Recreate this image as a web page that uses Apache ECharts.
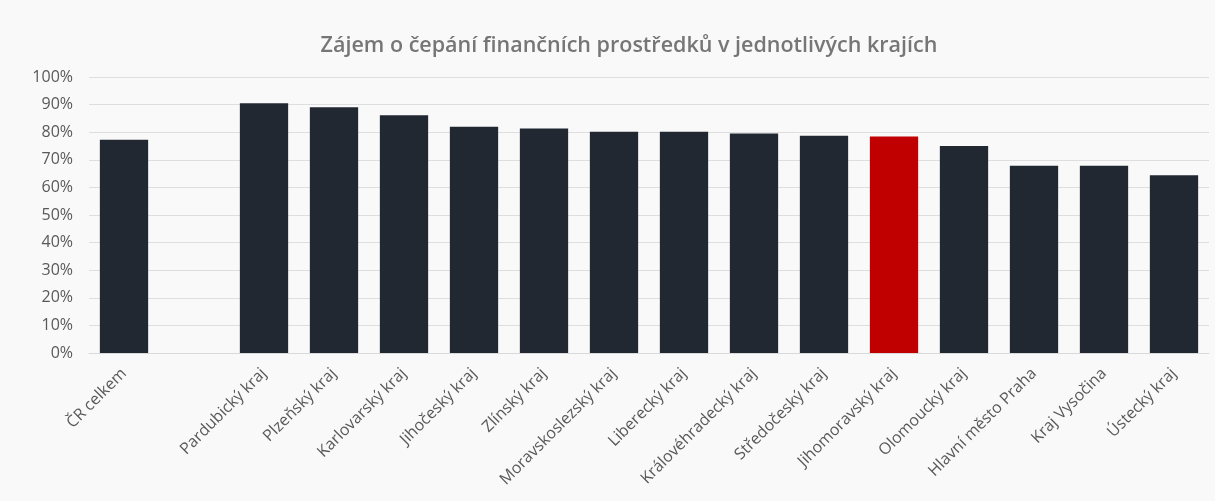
<!DOCTYPE html>
<html lang="cs">
<head>
  <meta charset="UTF-8">
  <title>Zájem o čepání finančních prostředků</title>
  <style>
    html, body { margin: 0; padding: 0; background: #f9f9f9; }
    #chart { width: 1215px; height: 501px; }
  </style>
  <script src="https://cdn.jsdelivr.net/npm/echarts@6/dist/echarts.min.js"></script>
</head>
<body>
  <div id="chart"></div>
  <script>
    // kategorie (druhá je prázdná mezera za ČR celkem)
    var kraje = ['ČR celkem', '', 'Pardubický kraj', 'Plzeňský kraj', 'Karlovarský kraj',
      'Jihočeský kraj', 'Zlínský kraj', 'Moravskoslezský kraj', 'Liberecký kraj',
      'Královéhradecký kraj', 'Středočeský kraj', 'Jihomoravský kraj', 'Olomoucký kraj',
      'Hlavní město Praha', 'Kraj Vysočina', 'Ústecký kraj'];
    var hodnoty = [77.3, null, 90.5, 89.0, 86.1, 82.0, 81.3, 80.2, 80.2, 79.5, 78.7, 78.4, 75.0, 67.8, 67.8, 64.4];
    var zvyrazneny = 'Jihomoravský kraj';

    var chart = echarts.init(document.getElementById('chart'));

    var data = hodnoty.map(function (v, i) {
      return {
        value: v,
        itemStyle: { color: kraje[i] === zvyrazneny ? '#c00000' : '#222831' }
      };
    });

    chart.setOption({
      backgroundColor: '#f9f9f9',
      title: {
        text: 'Zájem o čepání finančních prostředků v jednotlivých krajích',
        left: 624,
        textAlign: 'center',
        top: 30,
        textStyle: {
          fontFamily: 'Open Sans',
          fontSize: 21.5,
          fontWeight: 600,
          color: '#767676'
        }
      },
      grid: { left: 89, right: 6, top: 77, bottom: 148 },
      xAxis: {
        type: 'category',
        data: kraje,
        axisTick: { show: false },
        axisLine: { lineStyle: { color: '#d9d9d9' } },
        axisLabel: {
          rotate: 45,
          interval: 0,
          margin: 18,
          fontFamily: 'Open Sans',
          fontSize: 16,
          color: '#595959'
        }
      },
      yAxis: {
        type: 'value',
        min: 0,
        max: 100,
        interval: 10,
        axisLabel: {
          formatter: '{value}%',
          fontFamily: 'Open Sans',
          fontSize: 16,
          color: '#595959',
          margin: 16
        },
        splitLine: { lineStyle: { color: '#dedede' } }
      },
      series: [{
        type: 'bar',
        data: data,
        barCategoryGap: '31%',
        animation: false
      }]
    });
  </script>
</body>
</html>
